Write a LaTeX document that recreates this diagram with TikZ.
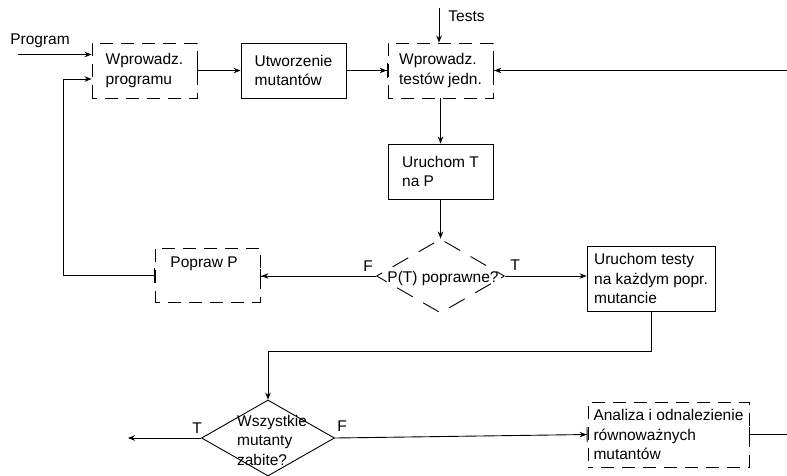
\documentclass[tikz,border=0pt]{standalone}
\usepackage{fontspec}
\setmainfont{Liberation Sans}
\usetikzlibrary{arrows.meta,shapes.geometric}
\begin{document}
\begin{tikzpicture}[x=1pt,y=-1pt,line width=0.9pt,
  every node/.style={font=\fontsize{15.5}{19.5}\selectfont},
  procbox/.style={draw,align=left,inner sep=0pt},
  dashbox/.style={procbox,dash pattern=on 13pt off 8pt,dash phase=8pt},
  decision/.style={draw,diamond,inner sep=0pt},
  lbl/.style={inner sep=0pt},
  arr/.style={arrows={-Stealth[length=7pt,width=5.5pt]}},
  bararr/.style={arrows={Bar[width=15pt]-Stealth[length=7pt,width=5.5pt]}},
  arrbar/.style={arrows={-{Stealth[length=7pt,width=5.5pt]Bar[width=15pt]}}},
  baronly/.style={arrows={Bar[width=15pt]-}}
]
\useasboundingbox (0,0) rectangle (787,475);

% nodes
\node[dashbox,minimum width=105pt,minimum height=55pt] (b1) at (144.5,70.5) {Wprowadz.\\programu};
\node[procbox,minimum width=105pt,minimum height=55pt] (b2) at (293.5,70.5) {Utworzenie\\mutantów};
\node[dashbox,minimum width=105pt,minimum height=55pt] (b3) at (440.5,70.5) {Wprowadz.\\testów jedn.};
\node[procbox,minimum width=105pt,minimum height=55pt] (b4) at (440.5,171.5) {Uruchom T\\na P};
\node[decision,dash pattern=on 18pt off 12pt,dash phase=9pt,minimum width=128pt,minimum height=74pt] (d1) at (440.5,276) {};
\node[lbl] (d1t) at (443,278) {P(T) poprawne?};
\node[dashbox,minimum width=105pt,minimum height=54pt] (pop) at (207.5,275) {};
\node[lbl,anchor=west] (popt) at (170,264) {Popraw P};
\node[procbox,minimum width=128pt,minimum height=65pt] (b5) at (651,278.5) {Uruchom testy\\na każdym popr.\\mutancie};
\node[decision,minimum width=133pt,minimum height=76pt] (d2) at (268,438) {};
\node[lbl,align=left] (d2t) at (272,440) {Wszystkie\\mutanty\\zabite?};
\node[dashbox,minimum width=161pt,minimum height=65pt] (b6) at (668.5,434.5) {Analiza i odnalezienie\\równoważnych\\mutantów};

% free ends and labels
\coordinate (progin) at (18,54.5);
\node[lbl] (prog) at (40,41) {Program};
\coordinate (testsin) at (439,8);
\node[lbl,anchor=west] (tests) at (448,16) {Tests};
\coordinate (rin) at (787,70.5);
\coordinate (fb) at (63,79);
\coordinate (turn) at (268,351);
\coordinate (tout) at (128,439);
\coordinate (rout) at (787,434.5);
\node[lbl] (f1) at (368,266) {F};
\node[lbl] (t1) at (515,265) {T};
\node[lbl] (t2) at (197,428) {T};
\node[lbl] (f2) at (342,426) {F};

% connectors
\draw[arr] (progin) -- (progin -| b1.west);
\draw[bararr] (b1) -- (b2);
\draw[arrbar] (b2) -- (b3);
\draw[arr] (testsin) -- (testsin |- b3.north);
\draw[arrbar] (rin) -- (b3.east);
\draw[arr] (b3) -- (b4);
\draw[arr] (b4) -- (d1.north);
\draw[arrbar] (d1.west) -- (d1.west -| pop.east);
\draw[arr] (d1.east) -- (d1.east -| b5.west);
\draw[bararr] (pop.west) -| (fb) -- (fb -| b1.west);
\draw[arr] (b5.south) |- (turn) -- (d2.north);
\draw[arr] (d2.west) -- (d2.west -| tout);
\draw[arrbar] (d2.east) -- (b6.west);
\draw[baronly] (b6.east) -- (rout);
\end{tikzpicture}
\end{document}
